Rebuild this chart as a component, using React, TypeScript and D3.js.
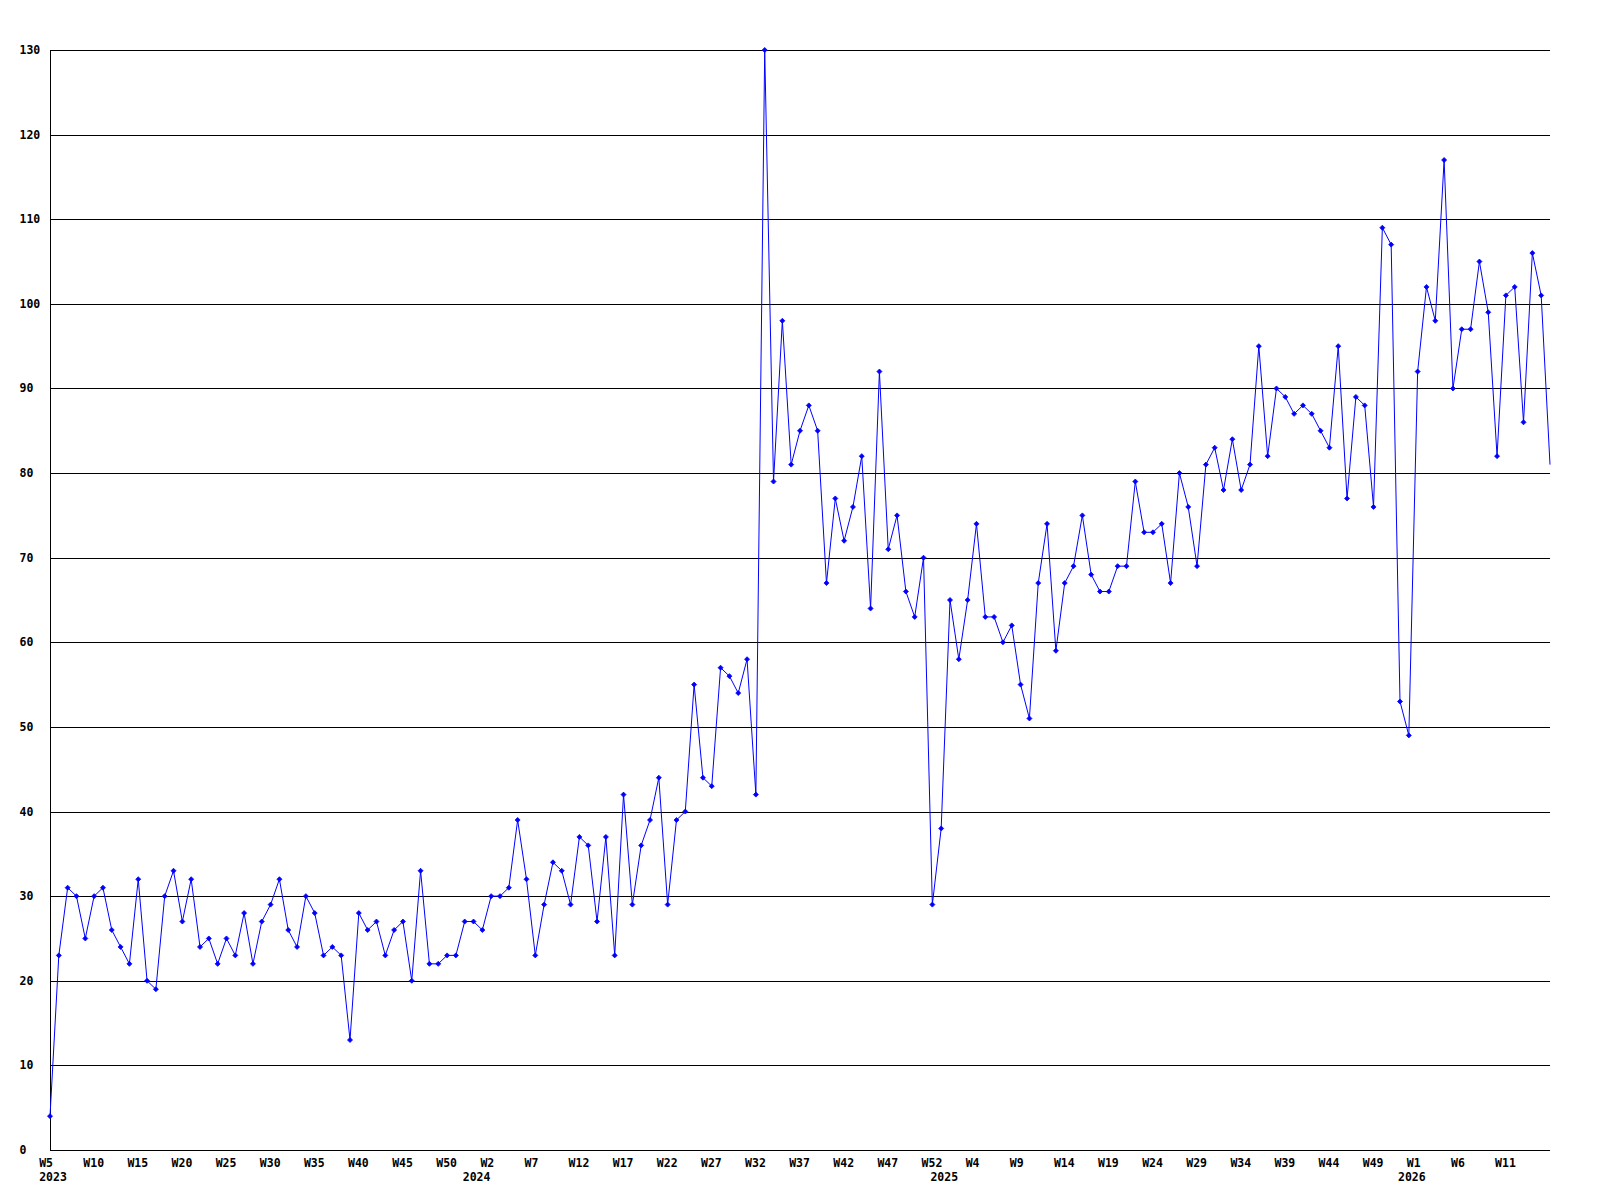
import React from "react";
import * as d3 from "d3";

const values: number[] = [
  4, 23, 31, 30, 25, 30, 31, 26, 24, 22,
  32, 20, 19, 30, 33, 27, 32, 24, 25, 22,
  25, 23, 28, 22, 27, 29, 32, 26, 24, 30,
  28, 23, 24, 23, 13, 28, 26, 27, 23, 26,
  27, 20, 33, 22, 22, 23, 23, 27, 27, 26,
  30, 30, 31, 39, 32, 23, 29, 34, 33, 29,
  37, 36, 27, 37, 23, 42, 29, 36, 39, 44,
  29, 39, 40, 55, 44, 43, 57, 56, 54, 58,
  42, 130, 79, 98, 81, 85, 88, 85, 67, 77,
  72, 76, 82, 64, 92, 71, 75, 66, 63, 70,
  29, 38, 65, 58, 65, 74, 63, 63, 60, 62,
  55, 51, 67, 74, 59, 67, 69, 75, 68, 66,
  66, 69, 69, 79, 73, 73, 74, 67, 80, 76,
  69, 81, 83, 78, 84, 78, 81, 95, 82, 90,
  89, 87, 88, 87, 85, 83, 95, 77, 89, 88,
  76, 109, 107, 53, 49, 92, 102, 98, 117, 90,
  97, 97, 105, 99, 82, 101, 102, 86, 106, 101,
  81,
];

const weekTickLabels: string[] = [
  "W5", "W10", "W15", "W20", "W25", "W30", "W35", "W40", "W45", "W50",
  "W2", "W7", "W12", "W17", "W22", "W27", "W32", "W37", "W42", "W47", "W52",
  "W4", "W9", "W14", "W19", "W24", "W29", "W34", "W39", "W44", "W49",
  "W1", "W6", "W11",
];
const weekTickStep = 5;

const yearLabels: string[] = ["2023", "2024", "2025", "2026"];
const yearIndex: number[] = [0, 48, 101, 154];

const yTicks: number[] = d3.range(0, 131, 10);

const W = 1600;
const H = 1200;
const left = 50;
const right = 1550;
const top = 50;
const bottom = 1150;
const font = "'DejaVu Sans Mono', monospace";

export default function App() {
  const x = d3.scaleLinear().domain([0, values.length - 1]).range([left, right]);
  const y = d3.scaleLinear().domain([0, 130]).range([bottom, top]);
  const line = d3
    .line<number>()
    .x((_, i) => x(i))
    .y((d) => y(d));

  const marker = (cx: number, cy: number) =>
    `M${cx - 2.5},${cy}L${cx},${cy - 2.5}L${cx + 2.5},${cy}L${cx},${cy + 2.5}Z`;

  return (
    <div style={{ position: "absolute", left: 0, top: 0 }}>
      <svg width={W} height={H} viewBox={`0 0 ${W} ${H}`} style={{ display: "block", background: "#fff" }}>
        <rect x={0} y={0} width={W} height={H} fill="#fff" />
        {yTicks.map((t) => (
          <g key={t}>
            <line
              x1={left}
              x2={right}
              y1={Math.round(y(t)) + 0.5}
              y2={Math.round(y(t)) + 0.5}
              stroke="#000"
              strokeWidth={1}
              shapeRendering="crispEdges"
            />
            <text
              x={19.5}
              y={y(t) + 4}
              fontFamily={font}
              fontWeight="bold"
              fontSize={11.5}
              fill="#000"
            >
              {t}
            </text>
          </g>
        ))}
        <line
          x1={left + 0.5}
          x2={left + 0.5}
          y1={top}
          y2={bottom + 1}
          stroke="#000"
          strokeWidth={1}
          shapeRendering="crispEdges"
        />
        {weekTickLabels.map((lab, k) => (
          <text
            key={lab + k}
            x={x(k * weekTickStep) - 10.8}
            y={1166.7}
            fontFamily={font}
            fontWeight="bold"
            fontSize={11.5}
            fill="#000"
          >
            {lab}
          </text>
        ))}
        {yearLabels.map((lab, k) => (
          <text
            key={lab}
            x={x(yearIndex[k]) - 10.8}
            y={1181}
            fontFamily={font}
            fontWeight="bold"
            fontSize={11.5}
            fill="#000"
          >
            {lab}
          </text>
        ))}
        <path
          d={line(values) || ""}
          fill="none"
          stroke="#0000ff"
          strokeWidth={1}
        />
        {values.slice(0, values.length - 1).map((v, i) => (
          <path key={i} d={marker(x(i), y(v))} fill="#0000ff" stroke="#0000ff" strokeWidth={0.8} />
        ))}
      </svg>
    </div>
  );
}
